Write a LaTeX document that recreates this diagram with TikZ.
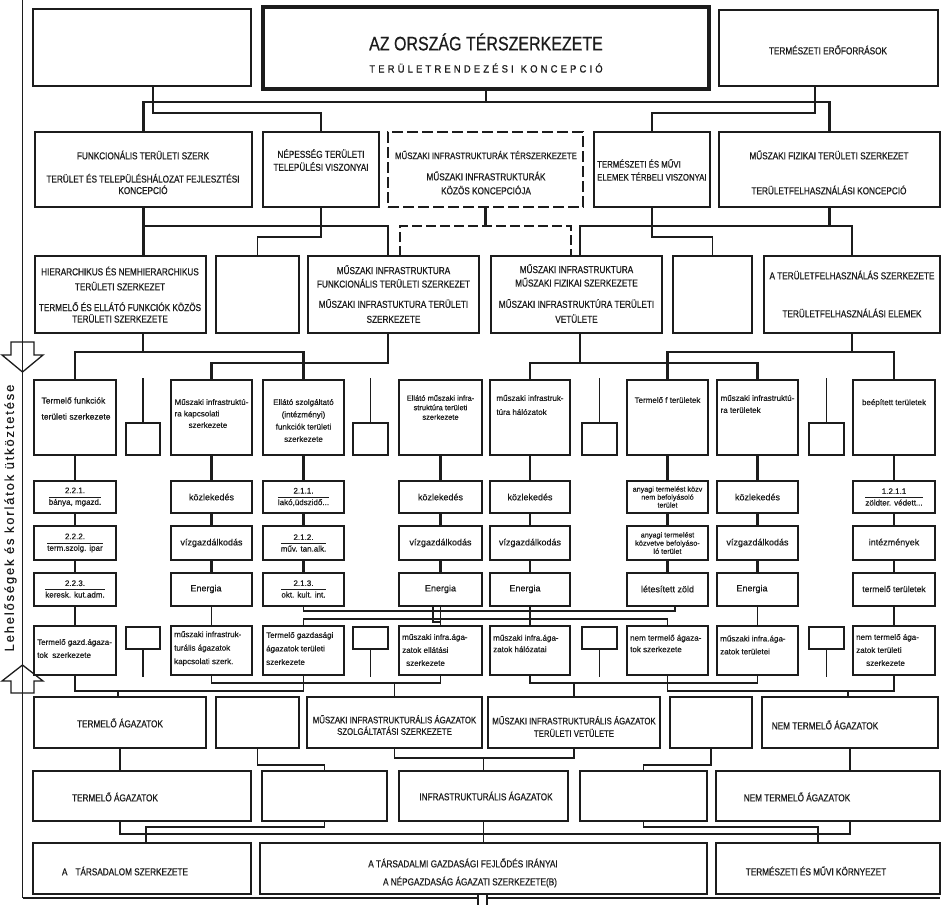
\documentclass[tikz,border=0pt]{standalone}
\usepackage{fontspec}
\setmainfont{Liberation Sans}
\newfontfamily\capf[FakeStretch=0.82,FakeBold=0.6]{Liberation Sans}
\newfontfamily\spcf[FakeStretch=0.9,LetterSpace=30,FakeBold=0.6]{Liberation Sans}
\newfontfamily\sidef[LetterSpace=14,FakeBold=0.4]{Liberation Sans}
\newfontfamily\lowf[FakeBold=0.5]{Liberation Sans}
\definecolor{ink}{HTML}{1C1C1C}
\newcommand\bx[6]{\node[#6,anchor=north west,minimum width={(#4)-(#2)},minimum height={(#5)-(#3)}] (#1) at (#2,#3) {};}
\newcommand\frc[2]{$\displaystyle\frac{\mbox{#1}}{\mbox{#2}}$}
\begin{document}
\begin{tikzpicture}[x=1pt,y=-1pt,
  thinbox/.style={draw=ink,line width=1.3pt,inner sep=0pt,outer sep=0pt,rectangle},
  thickbox/.style={draw=ink,line width=2.9pt,inner sep=0pt,outer sep=0pt,rectangle},
  titlebox/.style={thickbox,line width=3.6pt},
  dashbox/.style={thickbox,dash pattern=on 11pt off 4pt},
  wire/.style={draw=ink,line width=1.3pt},
  bwire/.style={draw=ink,line width=2.4pt},
  dwire/.style={bwire,dash pattern=on 10pt off 4pt},
  ctx/.style={font=\capf\fontsize{10}{15}\selectfont,align=center,inner sep=0pt,text=ink},
  ctxt/.style={font=\capf\fontsize{10}{11.5}\selectfont,align=center,inner sep=0pt,text=ink},
  low/.style={font=\lowf\fontsize{8}{13}\selectfont,align=left,inner sep=0pt,text=ink},
  word/.style={font=\lowf\fontsize{9}{11}\selectfont,align=center,inner sep=0pt,text=ink},
  frw/.style={font=\lowf\fontsize{8}{9}\selectfont,align=center,inner sep=0pt,text=ink}]
\useasboundingbox (0,0) rectangle (943,905);
\fill[white] (0,0) rectangle (943,905);
% level and column helper coordinates
\foreach \v in {102,113,226,237,352,363,611,619,622,683,691,758,765,827,834,898,905}{\coordinate (L\v) at (0,\v);}
\foreach \v in {118,143,146,153,388,400,433,478,487,571,580,675,815,818,848}{\coordinate (X\v) at (\v,0);}

% ---------- row 1
\bx{lt}{33}{9}{251}{86}{thinbox}
\bx{ttl}{263}{7}{709}{89}{titlebox}
\bx{rt}{719}{10}{938}{86}{thinbox}
\node[ctx,font=\capf\fontsize{19.5}{22}\selectfont] (t1) at (486,42) {AZ ORSZÁG TÉRSZERKEZETE};
\node[ctx,font=\spcf\fontsize{10.5}{11}\selectfont] (t2) at (486,68) {TERÜLETRENDEZÉSI\hspace{7pt}KONCEPCIÓ};
\node[ctx] (t3) at (828,50) {TERMÉSZETI ERŐFORRÁSOK};

% ---------- row 2
\bx{A}{35}{132}{252}{207}{thickbox}
\bx{B}{263}{132}{379}{207}{thinbox}
\bx{C}{388}{132}{583}{207}{dashbox}
\bx{D}{594}{132}{710}{207}{thinbox}
\bx{E}{719}{132}{940}{207}{thickbox}
\node[ctx] (t4) at (143,155) {FUNKCIONÁLIS TERÜLETI SZERK};
\node[ctxt] (t5) at (143,184) {TERÜLET ÉS TELEPÜLÉSHÁLOZAT FEJLESZTÉSI\\KONCEPCIÓ};
\node[ctx,font=\capf\fontsize{10}{13}\selectfont] (t6) at (321,160) {NÉPESSÉG TERÜLETI\\TELEPÜLÉSI VISZONYAI};
\node[ctx,font=\capf\fontsize{9.5}{13}\selectfont] (t7) at (486,155) {MŰSZAKI INFRASTRUKTURÁK TÉRSZERKEZETE};
\node[ctx,font=\capf\fontsize{10}{14}\selectfont] (t8) at (486,183) {MŰSZAKI INFRASTRUKTURÁK\\KÖZÖS KONCEPCIÓJA};
\node[ctx,align=left,anchor=west,font=\capf\fontsize{9.5}{13}\selectfont] (t9) at (597,170) {TERMÉSZETI ÉS MŰVI\\ELEMEK TÉRBELI VISZONYAI};
\node[ctx] (t10) at (829,155) {MŰSZAKI FIZIKAI TERÜLETI SZERKEZET};
\node[ctx] (t11) at (829,190) {TERÜLETFELHASZNÁLÁSI KONCEPCIÓ};

% ---------- row 3
\bx{Ha}{35}{256}{206}{333}{thickbox}
\bx{Hb}{216}{256}{299}{333}{thinbox}
\bx{Hc}{308}{256}{479}{333}{thickbox}
\bx{Hd}{491}{256}{662}{333}{thickbox}
\bx{He}{673}{256}{752}{333}{thinbox}
\bx{Hf}{764}{256}{940}{333}{thickbox}
\node[ctx] (t12) at (120,278.5) {HIERARCHIKUS ÉS NEMHIERARCHIKUS\\TERÜLETI SZERKEZET};
\node[ctxt] (t13) at (120,312.5) {TERMELŐ ÉS ELLÁTÓ FUNKCIÓK KÖZÖS\\TERÜLETI SZERKEZETE};
\node[ctx,font=\capf\fontsize{10}{13.5}\selectfont] (t14) at (393.5,276.5) {MŰSZAKI INFRASTRUKTURA\\FUNKCIONÁLIS TERÜLETI SZERKEZET};
\node[ctx,font=\capf\fontsize{10}{15}\selectfont] (t15) at (393.5,311) {MŰSZAKI INFRASTUKTURA TERÜLETI\\SZERKEZETE};
\node[ctx,font=\capf\fontsize{10}{13.5}\selectfont] (t16) at (576.5,275.5) {MŰSZAKI INFRASTRUKTURA\\MŰSZAKI FIZIKAI SZERKEZETE};
\node[ctx,font=\capf\fontsize{10}{15}\selectfont] (t17) at (576.5,311) {MŰSZAKI INFRASTRUKTÚRA TERÜLETI\\VETÜLETE};
\node[ctx] (t18) at (852,275) {A TERÜLETFELHASZNÁLÁS SZERKEZETE};
\node[ctx] (t19) at (852,313) {TERÜLETFELHASZNÁLÁSI ELEMEK};

% ---------- rows 4-8 (columns)
\foreach \n/\a/\b in {a/34/116,b/171/252,c/263/344,d/399/482,e/490/570,f/627/708,g/717/798,h/853/935}{
  \bx{r4\n}{\a}{380}{\b}{455}{thickbox}
  \bx{r5\n}{\a}{481}{\b}{513}{thickbox}
  \bx{r6\n}{\a}{526}{\b}{560}{thickbox}
  \bx{r7\n}{\a}{573}{\b}{606}{thickbox}
  \bx{r8\n}{\a}{626}{\b}{675}{thinbox}
}
\foreach \n/\a/\b in {a/126/160,b/353/388,c/582/617,d/809/844}{
  \bx{s4\n}{\a}{423}{\b}{455}{thinbox}
  \bx{s8\n}{\a}{627}{\b}{649}{thinbox}
  \draw[wire] (s4\n.north) -- ++(0,-45);
  \draw[wire] (s8\n.south) -- ++(0,28);
}

% row 4 texts
\node[low,font=\lowf\fontsize{8.5}{11}\selectfont] (u4a) at (76,408.5) {Termelő funkciók\\[5pt]területi szerkezete};
\node[low,font=\lowf\fontsize{8}{11.5}\selectfont] (u4b) at (211.5,413.5) {Műszaki infrastruktú-\\ra kapcsolati\\\hspace*{14pt}szerkezete};
\node[low,align=center,font=\lowf\fontsize{8}{12.3}\selectfont] (u4c) at (303.5,420.5) {Ellátó szolgáltató\\(intézményi)\\funkciók területi\\szerkezete};
\node[low,align=center,font=\lowf\fontsize{7.5}{9.5}\selectfont] (u4d) at (440.5,407.5) {Ellátó műszaki infra-\\struktúra területi\\szerkezete};
\node[low,font=\lowf\fontsize{8}{14}\selectfont] (u4e) at (530,405) {műszaki infrastruk-\\túra hálózatok};
\node[low,font=\lowf\fontsize{8}{12}\selectfont] (u4f) at (667.5,400) {Termelő f területek};
\node[low,font=\lowf\fontsize{8}{12}\selectfont] (u4g) at (757.5,404) {műszaki infrastruktú-\\ra területek};
\node[low,font=\lowf\fontsize{8}{12}\selectfont] (u4h) at (894,403) {beépített területek};

% row 5 texts
\node[frw] (u5a) at (75,497) {\frc{2.2.1.}{bánya, mgazd.}};
\node[word] (u5b) at (211.5,497) {közlekedés};
\node[frw] (u5c) at (303.5,497) {\frc{2.1.1.}{lakó,üdszidő...}};
\node[word] (u5d) at (440.5,497) {közlekedés};
\node[word] (u5e) at (530,497) {közlekedés};
\node[word,font=\lowf\fontsize{7.2}{8}\selectfont] (u5f) at (667.5,497) {anyagi termelést közv\\nem befolyásoló\\terület};
\node[word] (u5g) at (757.5,497) {közlekedés};
\node[frw] (u5h) at (894,497) {\frc{1.2.1.1}{zöldter. védett...}};
% row 6 texts
\node[frw] (u6a) at (75,543) {\frc{2.2.2.}{term.szolg. ipar}};
\node[word] (u6b) at (211.5,543) {vízgazdálkodás};
\node[frw] (u6c) at (303.5,543) {\frc{2.1.2.}{műv. tan.alk.}};
\node[word] (u6d) at (440.5,543) {vízgazdálkodás};
\node[word] (u6e) at (530,543) {vízgazdálkodás};
\node[word,font=\lowf\fontsize{7.3}{8.2}\selectfont] (u6f) at (667.5,543) {anyagi termelést\\közvetve befolyáso-\\ló terület};
\node[word] (u6g) at (757.5,543) {vízgazdálkodás};
\node[word] (u6h) at (894,543) {intézmények};
% row 7 texts
\node[frw] (u7a) at (75,589) {\frc{2.2.3.}{keresk. kut.adm.}};
\node[word] (u7b) at (206,589) {Energia};
\node[frw] (u7c) at (303.5,589) {\frc{2.1.3.}{okt. kult. int.}};
\node[word] (u7d) at (440.5,589) {Energia};
\node[word] (u7e) at (525,589) {Energia};
\node[word] (u7f) at (667.5,589) {létesített zöld};
\node[word] (u7g) at (752,589) {Energia};
\node[word,font=\lowf\fontsize{8.5}{10}\selectfont] (u7h) at (894,589) {termelő területek};
% row 8 texts
\node[low,anchor=west] (u8a) at (37,648.5) {Termelő gazd.ágaza-\\tok\ \ szerkezete};
\node[low,anchor=west,font=\lowf\fontsize{8}{13.5}\selectfont] (u8b) at (174,648.5) {műszaki infrastruk-\\turális ágazatok\\kapcsolati szerk.};
\node[low,anchor=west,font=\lowf\fontsize{8}{13.5}\selectfont] (u8c) at (266,648.5) {Termelő gazdasági\\ágazatok területi\\szerkezete};
\node[low,anchor=west,font=\lowf\fontsize{8}{13}\selectfont] (u8d) at (402,650) {műszaki infra.ága-\\zatok ellátási\\\hspace*{4pt}szerkezete};
\node[low,anchor=west,font=\lowf\fontsize{8}{11.5}\selectfont] (u8e) at (493,643.5) {műszaki infra.ága-\\zatok hálózatai};
\node[low,anchor=west,font=\lowf\fontsize{8}{11.5}\selectfont] (u8f) at (630,643.5) {nem termelő ágaza-\\tok szerkezete};
\node[low,anchor=west,font=\lowf\fontsize{8}{13}\selectfont] (u8g) at (720,645) {műszaki infra.ága-\\zatok területei};
\node[low,anchor=west,font=\lowf\fontsize{8}{13}\selectfont] (u8h) at (856,650) {nem termelő ága-\\zatok területi\\\hspace*{10pt}szerkezete};

% ---------- rows 9-11
\bx{n9a}{34}{697}{206}{748}{thinbox}
\bx{n9b}{216}{697}{299}{748}{thinbox}
\bx{n9c}{307}{697}{482}{748}{thinbox}
\bx{n9d}{488}{697}{660}{748}{thinbox}
\bx{n9e}{670}{697}{752}{748}{thinbox}
\bx{n9f}{762}{697}{938}{748}{thinbox}
\bx{n10a}{33}{771}{251}{821}{thinbox}
\bx{n10b}{262}{771}{387}{821}{thinbox}
\bx{n10c}{399}{771}{568}{821}{thinbox}
\bx{n10d}{580}{771}{707}{821}{thinbox}
\bx{n10e}{716}{771}{940}{821}{thinbox}
\bx{n11a}{33}{843}{251}{894}{thinbox}
\bx{n11b}{260}{843}{707}{894}{thinbox}
\bx{n11c}{716}{843}{940}{894}{thinbox}
\node[ctx] (w9a) at (120,723) {TERMELŐ ÁGAZATOK};
\node[ctxt,font=\capf\fontsize{9.5}{11.5}\selectfont] (w9c) at (394.5,725) {MŰSZAKI INFRASTRUKTURÁLIS ÁGAZATOK\\SZOLGÁLTATÁSI SZERKEZETE};
\node[ctxt,font=\capf\fontsize{9.5}{12.5}\selectfont] (w9d) at (574,726.5) {MŰSZAKI INFRASTRUKTURÁLIS ÁGAZATOK\\TERÜLETI VETÜLETE};
\node[ctx] (w9f) at (825,725) {NEM TERMELŐ ÁGAZATOK};
\node[ctx] (w10a) at (115,797) {TERMELŐ ÁGAZATOK};
\node[ctx] (w10c) at (486,796) {INFRASTRUKTURÁLIS ÁGAZATOK};
\node[ctx] (w10e) at (797,797) {NEM TERMELŐ ÁGAZATOK};
\node[ctx] (w11a) at (125,871) {A\hspace{8pt}TÁRSADALOM SZERKEZETE};
\node[ctx] (w11b) at (463,863) {A TÁRSADALMI GAZDASÁGI FEJLŐDÉS IRÁNYAI};
\node[ctx] (w11b2) at (470,882) {A NÉPGAZDASÁG ÁGAZATI SZERKEZETE(B)};
\node[ctx] (w11c) at (816,871) {TERMÉSZETI ÉS MŰVI KÖRNYEZET};

% ---------- side frame and arrows
\draw[wire,line width=1.4pt] (22.5,0) -- (22.5,898);
\draw[wire,line width=1.6pt] (22.5,898) -- (478,898);
\draw[wire,line width=1.2pt] (487,898) -- (940,898);
\draw[wire] (11,342) -- (34,342) -- (34,355) -- (43,355) -- (22.5,372) -- (2,355) -- (11,355) -- cycle;
\draw[wire] (22.5,665) -- (43,681) -- (34,681) -- (34,693) -- (11,693) -- (11,681) -- (2,681) -- cycle;
\node[font=\sidef\fontsize{13}{14}\selectfont,rotate=90,inner sep=0pt,text=ink] (side) at (10.5,518) {Lehelőségek és korlátok ütköztetése};

% ---------- connectors R1 -> R2
\draw[bwire] (ttl.south) -- (ttl.south |- L102);
\draw[bwire] (A.north) |- (L102 -| E.north) -- (E.north);
\draw[wire] (lt.south -| X153) |- (L113 -| B.north) -- (B.north);
\draw[wire] (rt.south -| X815) |- (L113 -| D.north) -- (D.north);
% R2 -> R3
\draw[bwire] (A.south) -- (A.south |- Ha.north);
\draw[bwire] (A.south |- L226) -| (Hc.north -| X388);
\draw[bwire] (E.south) -- (E.south |- L226);
\draw[bwire] (Hd.north -| X580) |- (L226 -| Hf.north) -- (Hf.north);
\draw[bwire] (C.south) -- (C.south |- L226);
\draw[dwire] (Hc.north -| X400) |- (L226 -| X571) -- (Hd.north -| X571);
\draw[wire] (B.south) |- (L237 -| Hb.north) -- (Hb.north);
\draw[wire] (D.south) |- (L237 -| He.north) -- (He.north);
% R3 -> R4
\draw[bwire] (Ha.south -| X143) -- (L352 -| X143);
\draw[bwire] (r4a.north) |- (L352 -| r4c.north) -- (r4c.north);
\draw[bwire] (Hc.south -| X388) |- (L363 -| r4b.north) -- (r4b.north);
\draw[bwire] (Hd.south -| X580) -- (L363 -| X580);
\draw[bwire] (r4e.north) |- (L363 -| r4g.north) -- (r4g.north);
\draw[bwire] (Hf.south) -- (Hf.south |- L352);
\draw[bwire] (r4f.north) |- (L352 -| r4h.north) -- (r4h.north);
% column connectors
\foreach \n in {a,b,c,d,e,f,g,h}{
  \draw[bwire] (r4\n.south) -- (r5\n.north);
  \draw[bwire] (r5\n.south) -- (r6\n.north);
  \draw[bwire] (r6\n.south) -- (r7\n.north);
}
\foreach \n in {a,b,d,e,g,h}{\draw[wire] (r7\n.south) -- (r8\n.north);}
\draw[wire] (r7c.south) |- (L611 -| X675) -- (r7f.south -| X675);
\draw[wire] (r8c.north) |- (L619 -| r8f.north) -- (r8f.north);
\draw[wire] (r7d.south -| X433) |- (L622 -| r7d.south);
% R8 -> R9
\draw[wire] (r8a.south) |- (L691 -| r8c.south) -- (r8c.south);
\draw[wire] (L691 -| X118) -- (n9a.north -| X118);
\draw[wire] (r8b.south) |- (L683 -| r8d.south) -- (r8d.south);
\draw[wire] (L683 -| n9c.north) -- (n9c.north);
\draw[wire] (r8e.south) |- (L683 -| r8g.south) -- (r8g.south);
\draw[wire] (L683 -| n9d.north) -- (n9d.north);
\draw[wire] (r8f.south) |- (L691 -| r8h.south) -- (r8h.south);
\draw[wire] (L691 -| X848) -- (n9f.north -| X848);
% R9 -> R10
\draw[wire] (n9a.south) -- (n9a.south |- n10a.north);
\draw[wire] (n9b.south) |- (L765 -| n10b.north) -- (n10b.north);
\draw[wire] (n9c.south) |- (L758 -| n9d.south) -- (n9d.south);
\draw[wire] (L758 -| n10c.north) -- (n10c.north);
\draw[wire] (n9e.south) |- (L765 -| n10d.north) -- (n10d.north);
\draw[wire] (n9f.south) -- (n9f.south |- n10e.north);
% R10 -> R11
\draw[wire] (n10b.south) |- (L827 -| X146) -- (n11a.north -| X146);
\draw[wire] (n10d.south) |- (L827 -| X818) -- (n11c.north -| X818);
\draw[wire] (n10a.south -| n9a.south) |- (L834 -| n9f.south) -- (n10e.south -| n9f.south);
\draw[wire] (n10c.south) -- (n11b.north -| n10c.south);
% bottom
\draw[wire] (n11b.south -| X478) -- (L905 -| X478);
\draw[wire] (n11b.south -| X487) -- (L905 -| X487);
\end{tikzpicture}
\end{document}
